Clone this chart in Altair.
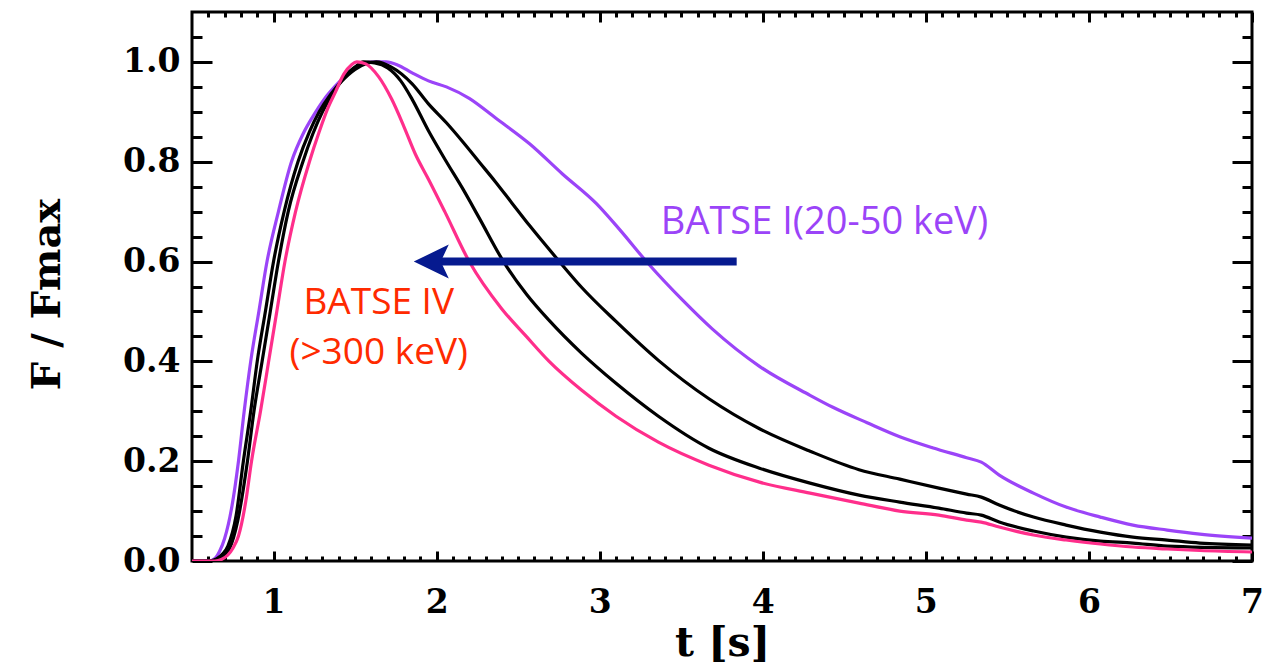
import altair as alt
import pandas as pd

# ---- light curves (t in s, F/Fmax) ----
# BATSE I (20-50 keV), purple
t_ch1 = [0.50, 0.60, 0.64, 0.67, 0.70, 0.745, 0.785, 0.82, 0.86, 0.91,
         0.96, 1.03, 1.11, 1.18, 1.24, 1.31, 1.38, 1.46, 1.54, 1.62,
         1.69, 1.76, 1.85, 1.95, 2.06, 2.20, 2.36, 2.57, 2.77, 2.98,
         3.12, 3.30, 3.51, 3.69, 3.98, 4.29, 4.43, 4.64, 4.84, 5.04,
         5.25, 5.34, 5.45, 5.66, 5.86, 6.07, 6.27, 6.48, 6.68, 7.00]
f_ch1 = [0.0, 0.0, 0.005, 0.02, 0.045, 0.11, 0.20, 0.30, 0.40, 0.50,
         0.60, 0.70, 0.80, 0.855, 0.89, 0.925, 0.952, 0.978, 0.996, 1.0,
         1.0, 0.994, 0.978, 0.962, 0.950, 0.927, 0.888, 0.836, 0.776, 0.716,
         0.665, 0.595, 0.522, 0.465, 0.390, 0.332, 0.308, 0.277, 0.249, 0.227,
         0.207, 0.198, 0.172, 0.136, 0.108, 0.088, 0.072, 0.062, 0.054, 0.046]

# BATSE II, black
t_ch2 = [0.50, 0.61, 0.65, 0.69, 0.72, 0.77, 0.815, 0.86, 0.90, 0.95,
         1.0, 1.065, 1.15, 1.22, 1.28, 1.35, 1.42, 1.50, 1.57, 1.63,
         1.72, 1.85, 1.95, 2.06, 2.16, 2.26, 2.36, 2.46, 2.57, 2.74,
         2.89, 3.10, 3.36, 3.67, 3.98, 4.29, 4.59, 4.84, 5.08, 5.25,
         5.34, 5.45, 5.66, 5.86, 6.07, 6.27, 6.48, 6.68, 7.00]
f_ch2 = [0.0, 0.0, 0.004, 0.015, 0.03, 0.09, 0.2, 0.30, 0.40, 0.50,
         0.60, 0.70, 0.80, 0.86, 0.90, 0.935, 0.962, 0.985, 0.997, 1.0,
         0.99, 0.956, 0.916, 0.878, 0.840, 0.800, 0.760, 0.718, 0.672, 0.605,
         0.548, 0.480, 0.402, 0.325, 0.265, 0.22, 0.183, 0.164, 0.146, 0.134,
         0.128, 0.112, 0.088, 0.072, 0.058, 0.048, 0.042, 0.036, 0.032]

# BATSE III, black
t_ch3 = [0.50, 0.62, 0.66, 0.70, 0.73, 0.78, 0.84, 0.88, 0.93, 0.98,
         1.03, 1.09, 1.18, 1.24, 1.30, 1.37, 1.44, 1.50, 1.55, 1.62,
         1.70, 1.78, 1.85, 1.95, 2.06, 2.16, 2.26, 2.41, 2.55, 2.69,
         2.89, 3.10, 3.36, 3.67, 3.98, 4.29, 4.59, 4.84, 5.08, 5.25,
         5.34, 5.45, 5.66, 5.86, 6.07, 6.27, 6.48, 7.00]
f_ch3 = [0.0, 0.0, 0.004, 0.012, 0.025, 0.08, 0.20, 0.30, 0.40, 0.50,
         0.60, 0.70, 0.80, 0.855, 0.90, 0.94, 0.972, 0.99, 1.0, 0.998,
         0.988, 0.962, 0.925, 0.862, 0.800, 0.746, 0.688, 0.600, 0.535, 0.482,
         0.416, 0.356, 0.290, 0.226, 0.186, 0.156, 0.132, 0.118, 0.106, 0.096,
         0.092, 0.078, 0.060, 0.048, 0.040, 0.036, 0.030, 0.026]

# BATSE IV (>300 keV), pink
t_ch4 = [0.50, 0.64, 0.68, 0.72, 0.75, 0.785, 0.83, 0.865, 0.92, 0.97,
         1.02, 1.07, 1.135, 1.22, 1.28, 1.33, 1.38, 1.43, 1.48, 1.51,
         1.565, 1.645, 1.725, 1.80, 1.87, 1.95, 2.05, 2.20, 2.40, 2.55,
         2.69, 2.89, 3.10, 3.36, 3.67, 3.98, 4.29, 4.59, 4.84, 5.08,
         5.25, 5.34, 5.45, 5.66, 5.86, 6.07, 6.27, 6.48, 6.68, 7.00]
f_ch4 = [0.0, 0.0, 0.003, 0.012, 0.025, 0.05, 0.12, 0.20, 0.30, 0.40,
         0.50, 0.60, 0.70, 0.80, 0.86, 0.905, 0.94, 0.975, 0.995, 1.0,
         0.996, 0.970, 0.925, 0.870, 0.815, 0.765, 0.700, 0.600, 0.505, 0.450,
         0.400, 0.342, 0.290, 0.238, 0.192, 0.158, 0.136, 0.116, 0.100, 0.092,
         0.082, 0.078, 0.068, 0.052, 0.042, 0.034, 0.028, 0.024, 0.021, 0.018]

# ---- axis ticks and labels ----
x_major = [1, 2, 3, 4, 5, 6, 7]
x_minor = [round(v / 10, 1) for v in range(6, 70) if v % 10 != 0]
y_major = [0.0, 0.2, 0.4, 0.6, 0.8, 1.0]
y_minor = [round(v / 100, 2) for v in range(5, 110, 5) if v % 20 != 0]

# ---- annotations ----
label_ch1 = ["BATSE I(20-50 keV)"]
label_ch1_t = [3.375]
label_ch1_f = [0.656]
label_ch4 = ["BATSE IV", "(>300 keV)"]
label_ch4_t = [1.645, 1.645]
label_ch4_f = [0.494, 0.395]
arrow_tail_t = [3.84]
arrow_shaft_end_t = [2.0]
arrow_tip_t = [1.86]
arrow_f = [0.6]

W, H = 1060, 549
PURPLE = "#9B44F8"
PINK = "#FF2E8B"
RED = "#FF2A00"
NAVY = "#061A8F"

xscale = alt.Scale(domain=[0.5, 7], nice=False, zero=False)
yscale = alt.Scale(domain=[0, 1.1], nice=False, zero=False)

df1 = pd.DataFrame({"t": t_ch1, "f": f_ch1})
df2 = pd.DataFrame({"t": t_ch2, "f": f_ch2})
df3 = pd.DataFrame({"t": t_ch3, "f": f_ch3})
df4 = pd.DataFrame({"t": t_ch4, "f": f_ch4})


def curve(df, color):
    return alt.Chart(df).mark_line(
        color=color, strokeWidth=3.2, interpolate="monotone", clip=True
    ).encode(
        x=alt.X("t:Q", scale=xscale, axis=None),
        y=alt.Y("f:Q", scale=yscale, axis=None),
    )


def tick_axis(orient, values, size, offset):
    return alt.Axis(
        orient=orient, values=values, tickSize=size, offset=offset,
        tickWidth=3, tickColor="black", labels=False, domain=False,
        grid=False, title=None, ticks=True,
    )


def axis_layer(xaxis, yaxis):
    return alt.Chart(df1).mark_point(opacity=0).encode(
        x=alt.X("t:Q", scale=xscale, axis=xaxis),
        y=alt.Y("f:Q", scale=yscale, axis=yaxis),
    )


label_layer = axis_layer(
    alt.Axis(orient="bottom", values=x_major, format="d", ticks=False, tickSize=0,
             domain=False, grid=False, labelFont="DejaVu Serif", labelFontWeight="bold",
             labelFontSize=33, labelPadding=25, labelColor="black", labelFlush=False,
             labelOverlap=False, title="t [s]", titleFont="DejaVu Serif",
             titleFontWeight="bold", titleFontSize=41, titleColor="black",
             titleX=W / 2, titleY=94, titleAlign="center", titleBaseline="alphabetic"),
    alt.Axis(orient="left", values=y_major, format=".1f", ticks=False, tickSize=0,
             domain=False, grid=False, labelFont="DejaVu Serif", labelFontWeight="bold",
             labelFontSize=33, labelPadding=12, labelColor="black", labelFlush=False,
             labelOverlap=False, title="F / Fmax", titleFont="DejaVu Serif",
             titleFontWeight="bold", titleFontSize=40, titleColor="black",
             titleX=-145, titleY=282, titleAngle=270, titleAlign="center",
             titleBaseline="middle"),
)

ticks_in_1 = axis_layer(tick_axis("top", x_major, 10, -H), tick_axis("right", y_major, 20, -W))
ticks_in_2 = axis_layer(tick_axis("top", x_minor, 5, -H), tick_axis("right", y_minor, 10, -W))
ticks_in_3 = axis_layer(tick_axis("bottom", x_major, 10, -H), tick_axis("left", y_major, 20, -W))
ticks_in_4 = axis_layer(tick_axis("bottom", x_minor, 5, -H), tick_axis("left", y_minor, 10, -W))

txt1 = alt.Chart(pd.DataFrame({"t": label_ch1_t, "f": label_ch1_f, "s": label_ch1})).mark_text(
    font="Open Sans", fontSize=38, color=PURPLE, align="left", baseline="alphabetic"
).encode(x=alt.X("t:Q", scale=xscale, axis=None), y=alt.Y("f:Q", scale=yscale, axis=None), text="s:N")

txt4 = alt.Chart(pd.DataFrame({"t": label_ch4_t, "f": label_ch4_f, "s": label_ch4})).mark_text(
    font="Open Sans", fontSize=37, color=RED, align="center", baseline="alphabetic"
).encode(x=alt.X("t:Q", scale=xscale, axis=None), y=alt.Y("f:Q", scale=yscale, axis=None), text="s:N")

shaft = alt.Chart(pd.DataFrame({"t": arrow_tail_t, "t2": arrow_shaft_end_t, "f": arrow_f})).mark_rule(
    color=NAVY, strokeWidth=8
).encode(x=alt.X("t:Q", scale=xscale, axis=None), x2="t2:Q", y=alt.Y("f:Q", scale=yscale, axis=None))

head = alt.Chart(pd.DataFrame({"t": arrow_tip_t, "f": arrow_f})).mark_point(
    shape="M0,0L1.75,-0.85L1.35,0L1.75,0.85Z", size=1600, filled=True,
    color=NAVY, opacity=1, strokeWidth=0
).encode(x=alt.X("t:Q", scale=xscale, axis=None), y=alt.Y("f:Q", scale=yscale, axis=None))

chart = alt.layer(
    label_layer, ticks_in_1, ticks_in_2, ticks_in_3, ticks_in_4,
    curve(df1, PURPLE), curve(df2, "black"), curve(df3, "black"), curve(df4, PINK),
    shaft, head, txt1, txt4,
).resolve_axis(
    x="independent", y="independent"
).properties(
    width=W, height=H,
    autosize=alt.AutoSizeParams(type="none"),
    padding={"left": 184, "top": 4, "right": 20, "bottom": 103},
    background="white",
).configure_view(
    stroke="black", strokeWidth=3
)

chart.save("out.html", embed_options={"renderer": "svg", "actions": False})
